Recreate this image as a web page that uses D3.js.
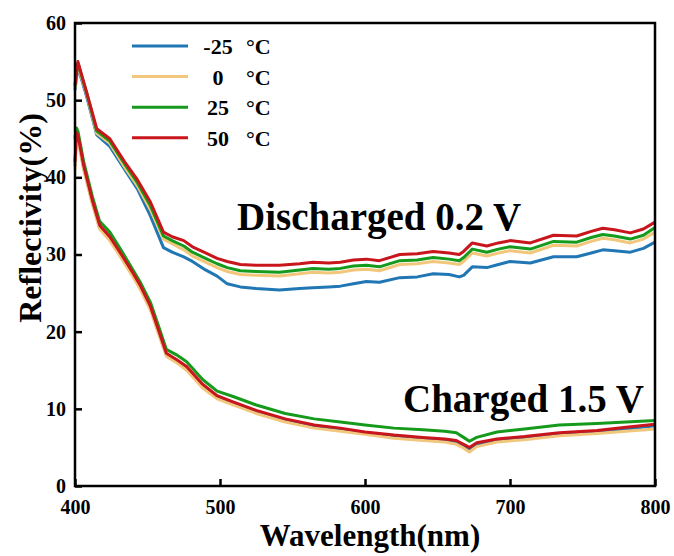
<!DOCTYPE html>
<html>
<head>
<meta charset="utf-8">
<script src="https://cdn.jsdelivr.net/npm/d3@7"></script>
<style>
  body { margin: 0; background: #fff; }
  text { font-family: "Liberation Serif", "Times New Roman", serif; font-weight: bold; }
</style>
</head>
<body>
<div id="chart"></div>
<script>
'use strict';

// wavelength grids (nm)
let wlDis = [400, 402, 408, 415, 424, 435, 443, 452, 461, 467, 475, 481, 490, 498, 505, 514, 525, 541, 555, 564, 575, 583, 592, 601, 610, 624, 636, 647, 658, 665, 668, 674, 684, 692, 700, 714, 730, 746, 756, 764, 772, 783, 792, 800];
let wlCha = [400, 401, 402, 406, 412, 417, 424, 432, 440, 445, 452, 458, 463, 470, 477, 488, 498, 509, 525, 545, 565, 583, 600, 620, 640, 655, 663, 668, 672, 677, 691, 710, 734, 760, 780, 800];

// discharged 0.2 V
let disM25 = [51.3, 54.3, 50.5, 45.5, 44.0, 40.8, 38.5, 35.0, 30.9, 30.3, 29.7, 29.1, 28.0, 27.2, 26.2, 25.8, 25.6, 25.4, 25.6, 25.7, 25.8, 25.9, 26.2, 26.5, 26.4, 27.0, 27.1, 27.5, 27.4, 27.1, 27.3, 28.4, 28.3, 28.7, 29.1, 28.9, 29.7, 29.7, 30.2, 30.6, 30.5, 30.3, 30.8, 31.6];
let dis0 = [51.6, 54.5, 50.8, 45.7, 44.4, 41.1, 38.9, 35.8, 32.0, 31.4, 30.6, 29.8, 29.0, 28.3, 27.8, 27.4, 27.3, 27.2, 27.5, 27.7, 27.6, 27.7, 28.0, 28.1, 27.9, 28.7, 28.8, 29.1, 28.9, 28.7, 29.1, 30.2, 29.8, 30.2, 30.5, 30.2, 31.2, 31.1, 31.7, 32.1, 31.9, 31.5, 32.0, 32.9];
let dis25 = [51.8, 54.8, 51.0, 46.0, 44.7, 41.5, 39.3, 36.3, 32.4, 31.8, 31.1, 30.3, 29.5, 28.8, 28.3, 27.9, 27.8, 27.7, 28.0, 28.2, 28.1, 28.2, 28.5, 28.6, 28.4, 29.2, 29.3, 29.6, 29.4, 29.2, 29.6, 30.7, 30.3, 30.7, 31.0, 30.7, 31.7, 31.6, 32.2, 32.6, 32.4, 32.0, 32.5, 33.5];
let dis50 = [52.0, 55.0, 51.0, 46.3, 45.0, 41.8, 39.7, 36.8, 32.9, 32.3, 31.8, 31.0, 30.2, 29.5, 29.1, 28.7, 28.6, 28.6, 28.8, 29.0, 28.9, 29.0, 29.3, 29.4, 29.2, 30.0, 30.1, 30.4, 30.2, 30.0, 30.4, 31.5, 31.1, 31.5, 31.8, 31.5, 32.5, 32.4, 33.0, 33.4, 33.2, 32.8, 33.3, 34.2];

// charged 1.5 V
let chaM25 = [41.5, 45.5, 45.2, 41.2, 36.7, 33.5, 32.0, 29.7, 27.3, 25.7, 23.0, 19.7, 17.0, 16.2, 15.2, 12.9, 11.5, 10.7, 9.6, 8.5, 7.7, 7.3, 6.8, 6.4, 6.1, 5.9, 5.6, 5.1, 4.7, 5.3, 5.9, 6.2, 6.7, 7.0, 7.4, 7.8];
let cha0 = [41.0, 45.2, 45.0, 41.0, 36.5, 33.3, 31.8, 29.5, 27.1, 25.5, 22.8, 19.5, 16.8, 16.0, 15.0, 12.7, 11.3, 10.5, 9.4, 8.3, 7.5, 7.1, 6.7, 6.2, 5.9, 5.7, 5.4, 4.9, 4.4, 5.1, 5.7, 6.0, 6.5, 6.8, 7.1, 7.4];
let cha25 = [45.0, 46.4, 46.0, 42.0, 37.5, 34.3, 32.9, 30.5, 28.0, 26.4, 23.8, 20.5, 17.7, 17.0, 16.1, 13.8, 12.3, 11.6, 10.5, 9.4, 8.7, 8.3, 7.9, 7.5, 7.3, 7.1, 6.9, 6.3, 5.8, 6.3, 7.0, 7.4, 7.9, 8.1, 8.3, 8.5];
let cha50 = [42.0, 45.8, 45.5, 41.5, 37.0, 33.8, 32.3, 30.0, 27.6, 26.0, 23.3, 20.0, 17.2, 16.4, 15.5, 13.2, 11.7, 10.9, 9.8, 8.7, 7.9, 7.5, 7.0, 6.6, 6.3, 6.1, 5.9, 5.4, 5.0, 5.6, 6.1, 6.4, 6.9, 7.2, 7.6, 8.0];

let temps = ['-25', '0', '25', '50'];
let colors = ['#2176b4', '#f2c77c', '#159a1c', '#c8161c'];
let xTicks = [400, 500, 600, 700, 800];
let yTicks = [0, 10, 20, 30, 40, 50, 60];

let width = 674, height = 556;
let margin = {top: 23, right: 19, bottom: 70, left: 75};

let svg = d3.select('#chart').append('svg')
	.attr('width', width)
	.attr('height', height);

let x = d3.scaleLinear().domain([400, 800]).range([margin.left, width - margin.right]);
let y = d3.scaleLinear().domain([0, 60]).range([height - margin.bottom, margin.top]);

let series = [
	{wl: wlDis, v: disM25, c: 0}, {wl: wlDis, v: dis0, c: 1}, {wl: wlDis, v: dis25, c: 2}, {wl: wlDis, v: dis50, c: 3},
	{wl: wlCha, v: chaM25, c: 0}, {wl: wlCha, v: cha0, c: 1}, {wl: wlCha, v: cha25, c: 2}, {wl: wlCha, v: cha50, c: 3}
];

let line = d3.line()
	.x(d => x(d[0]))
	.y(d => y(d[1]));

svg.selectAll('path.series')
	.data(series)
	.join('path')
	.classed('series', true)
	.attr('d', s => line(s.wl.map((w, i) => [w, s.v[i]])))
	.attr('fill', 'none')
	.attr('stroke', s => colors[s.c])
	.attr('stroke-width', 3)
	.attr('stroke-linejoin', 'round');

// axes, ticks inward
let xAxis = svg.append('g')
	.attr('transform', `translate(0,${height - margin.bottom})`)
	.call(d3.axisBottom(x).tickValues(xTicks).tickSize(-7).tickPadding(14));
let yAxis = svg.append('g')
	.attr('transform', `translate(${margin.left},0)`)
	.call(d3.axisLeft(y).tickValues(yTicks).tickSize(-7).tickPadding(9));

[xAxis, yAxis].forEach(g => {
	g.select('.domain').remove();
	g.selectAll('.tick line').attr('stroke', '#000').attr('stroke-width', 2.5);
	g.selectAll('.tick text')
		.attr('font-size', 20)
		.attr('fill', '#000')
		.style('font-family', '"Liberation Serif", serif');
});

// frame
svg.append('rect')
	.attr('x', margin.left)
	.attr('y', margin.top)
	.attr('width', width - margin.left - margin.right)
	.attr('height', height - margin.top - margin.bottom)
	.attr('fill', 'none')
	.attr('stroke', '#000')
	.attr('stroke-width', 2.5);

// axis titles
svg.append('text')
	.attr('x', 370)
	.attr('y', 546)
	.attr('text-anchor', 'middle')
	.attr('font-size', 31)
	.text('Wavelength(nm)');

svg.append('text')
	.attr('transform', 'translate(41,218) rotate(-90)')
	.attr('text-anchor', 'middle')
	.attr('font-size', 32)
	.text('Reflectivity(%)');

// annotations
svg.append('text')
	.attr('x', 237)
	.attr('y', 230)
	.attr('font-size', 39)
	.text('Discharged 0.2 V');

svg.append('text')
	.attr('x', 403)
	.attr('y', 412)
	.attr('font-size', 39)
	.text('Charged 1.5 V');

// legend
let legend = svg.selectAll('g.legend')
	.data(temps)
	.join('g')
	.classed('legend', true)
	.attr('transform', (d, i) => `translate(0,${46 + i * 30.6})`);

legend.append('line')
	.attr('x1', 132).attr('x2', 188)
	.attr('stroke', (d, i) => colors[i])
	.attr('stroke-width', 3);

legend.append('text')
	.attr('x', 218)
	.attr('y', 8)
	.attr('text-anchor', 'middle')
	.attr('font-size', 22)
	.text(d => d);

legend.append('text')
	.attr('x', 246)
	.attr('y', 8)
	.attr('font-size', 22)
	.text('°C');
</script>
</body>
</html>
